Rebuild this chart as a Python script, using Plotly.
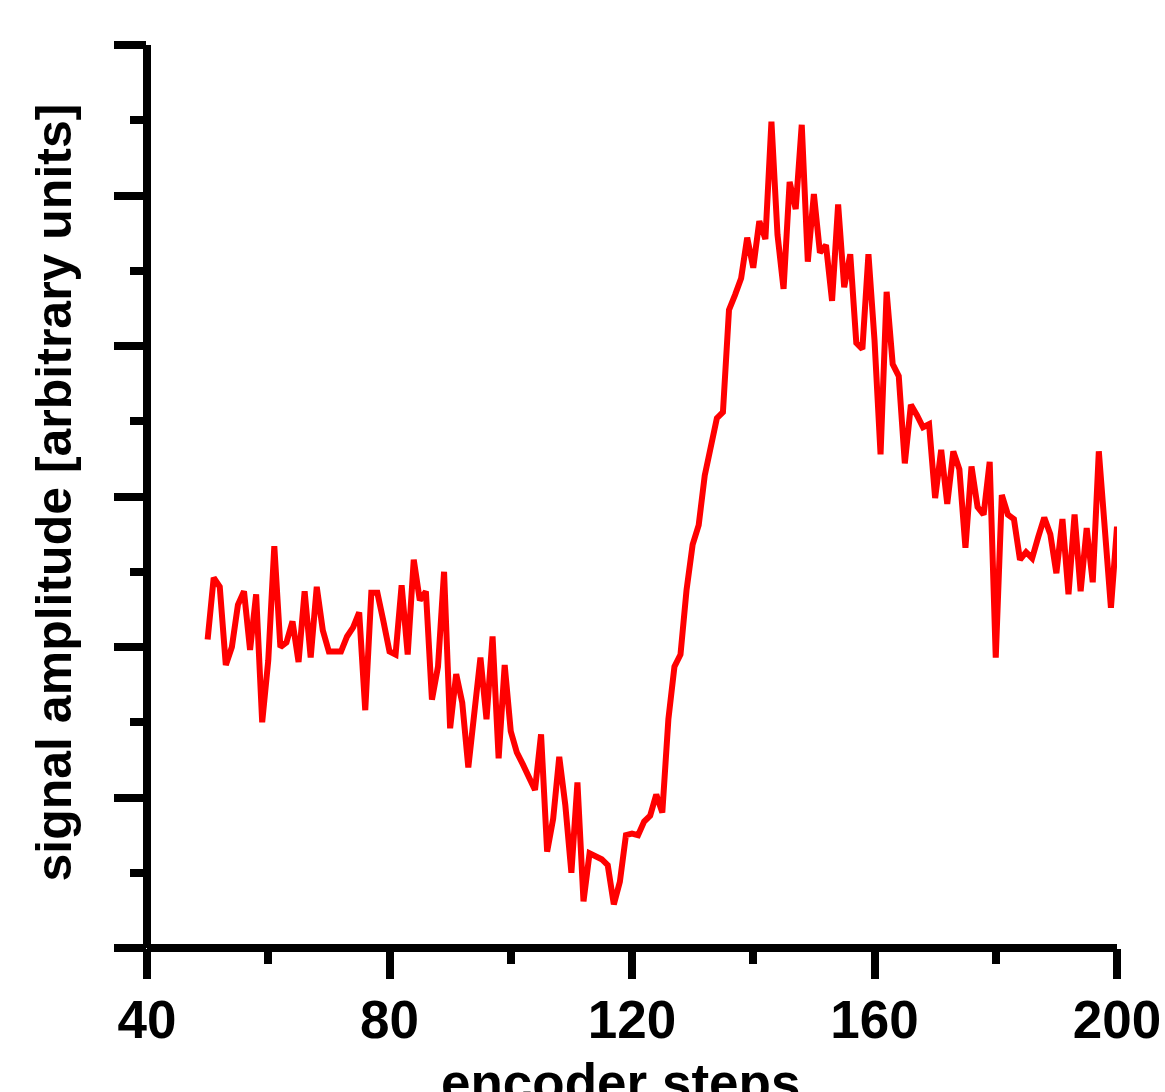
import plotly.graph_objects as go

steps = list(range(50, 201))
amplitude = [
    2.05, 2.46, 2.40, 1.88, 2.00, 2.28, 2.37, 1.98, 2.35, 1.50,
    1.91, 2.67, 2.00, 2.03, 2.17, 1.90, 2.37, 1.93, 2.40, 2.11,
    1.97, 1.97, 1.97, 2.07, 2.13, 2.23, 1.58, 2.36, 2.36, 2.17,
    1.97, 1.95, 2.41, 1.95, 2.58, 2.31, 2.37, 1.65, 1.87, 2.50,
    1.46, 1.82, 1.63, 1.20, 1.55, 1.93, 1.52, 2.07, 1.26, 1.88,
    1.44, 1.30, 1.22, 1.13, 1.05, 1.42, 0.64, 0.86, 1.27, 0.95,
    0.50, 1.10, 0.31, 0.63, 0.61, 0.59, 0.55, 0.29, 0.44, 0.75,
    0.76, 0.75, 0.84, 0.88, 1.02, 0.90, 1.52, 1.87, 1.95, 2.38,
    2.68, 2.81, 3.14, 3.32, 3.52, 3.56, 4.24, 4.34, 4.45, 4.72,
    4.52, 4.83, 4.71, 5.49, 4.74, 4.38, 5.09, 4.91, 5.47, 4.56,
    5.01, 4.62, 4.67, 4.30, 4.94, 4.39, 4.61, 4.02, 3.98, 4.61,
    4.04, 3.28, 4.36, 3.88, 3.80, 3.22, 3.61, 3.54, 3.46, 3.48,
    2.99, 3.31, 2.95, 3.30, 3.18, 2.66, 3.20, 2.93, 2.88, 3.23,
    1.93, 3.01, 2.88, 2.85, 2.58, 2.63, 2.59, 2.73, 2.86, 2.75,
    2.49, 2.85, 2.35, 2.88, 2.37, 2.79, 2.43, 3.30, 2.81, 2.26,
    2.80,
]
assert len(steps) == len(amplitude)

x_tickvals = [40, 80, 120, 160, 200]
x_ticktext = ["40", "80", "120", "160", "200"]
x_title = "encoder steps"
y_title = "signal amplitude [arbitrary units]"

FONT = "Liberation Sans, Arial, sans-serif"

fig = go.Figure()
fig.add_trace(go.Scatter(
    x=steps, y=amplitude, mode="lines",
    line=dict(color="#ff0000", width=6),
    showlegend=False, hoverinfo="skip",
))

# plot area in page px: x 147..1117, y 45..948 (body margin removed below)
fig.update_layout(
    width=1165, height=1092,
    margin=dict(l=147, r=48, t=45, b=144),
    paper_bgcolor="white", plot_bgcolor="white",
    font=dict(family=FONT, color="black"),
)

fig.update_xaxes(
    range=[40, 200], showgrid=False, zeroline=False, showline=False,
    ticks="outside", ticklen=30, tickwidth=8, tickcolor="black",
    tickvals=x_tickvals, ticktext=x_ticktext,
    tickfont=dict(size=53, family=FONT, weight="bold"),
    ticklabelstandoff=-5,
    minor=dict(dtick=20, ticks="outside", ticklen=15, tickwidth=8, tickcolor="black", showgrid=False),
    automargin=False,
)

fig.update_yaxes(
    range=[0, 6], showgrid=False, zeroline=False, showline=False,
    ticks="outside", ticklen=32, tickwidth=8, tickcolor="black",
    dtick=1, tick0=0, showticklabels=False,
    minor=dict(dtick=0.5, ticks="outside", ticklen=16, tickwidth=8, tickcolor="black", showgrid=False),
    automargin=False,
)

# axis lines centred on the plot edges
fig.add_shape(type="line", xref="paper", yref="paper", x0=0, x1=0, y0=0, y1=1,
              line=dict(color="black", width=8), layer="above")
fig.add_shape(type="line", xref="paper", yref="paper", x0=0, x1=1, y0=0, y1=0,
              line=dict(color="black", width=8), layer="above")

fig.add_annotation(text=x_title, xref="paper", yref="paper",
                   x=(620 - 147) / 970, y=(948 - 1051) / 903,
                   xanchor="center", yanchor="top", showarrow=False,
                   font=dict(size=53, family=FONT, weight="bold", color="black"))
fig.add_annotation(text=y_title, xref="paper", yref="paper",
                   x=(53 - 147) / 970, y=(948 - 492.5) / 903,
                   xanchor="center", yanchor="middle", textangle=-90, showarrow=False,
                   font=dict(size=50, family=FONT, weight="bold", color="black"))

fig.write_html("out.html", config={"displayModeBar": False},
               post_script="document.body.style.margin='0px';")
